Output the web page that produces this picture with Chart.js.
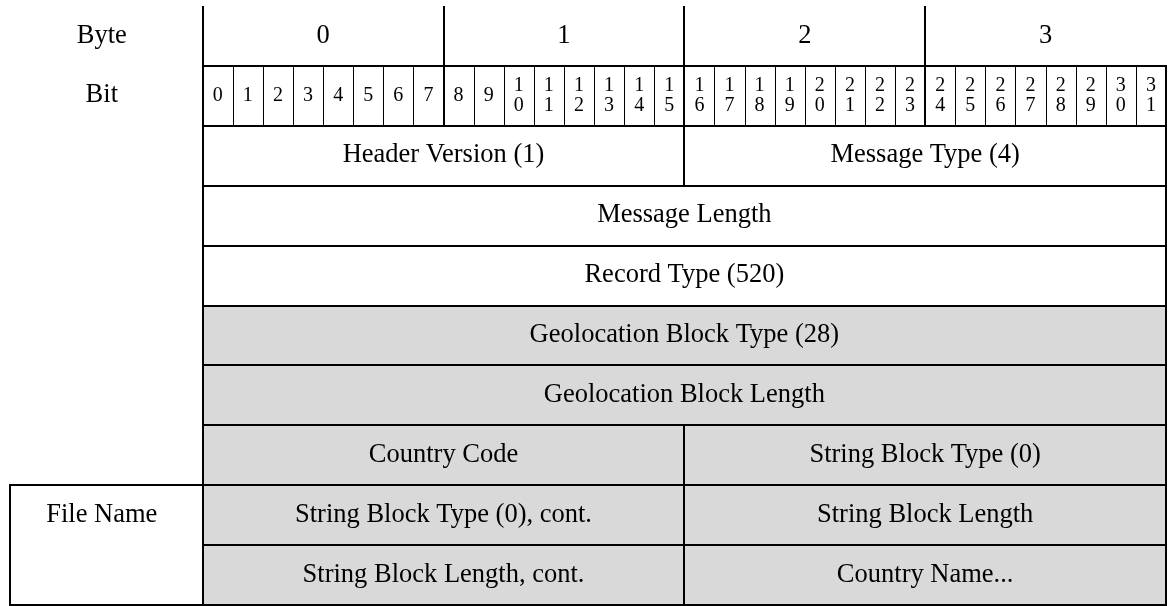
<!DOCTYPE html>
<html>
<head>
<meta charset="utf-8">
<script src="https://cdn.jsdelivr.net/npm/chart.js@4.4.1/dist/chart.umd.min.js"></script>
<style>
  html, body { margin: 0; padding: 0; background: #fff; }
  #wrap { width: 1171px; height: 606px; }
</style>
</head>
<body>
<div id="wrap"><canvas id="packetChart"></canvas></div>
<script>
// Filas del diagrama (claves) y rotulos de la columna izquierda
var rowKeys = ['byte', 'bit', 'header', 'msgLength', 'recordType', 'geoType', 'geoLength', 'country', 'fileName', 'fileNameCont'];
var rowLabels = ['Byte', 'Bit', '', '', '', '', '', '', 'File Name', ''];

// Bytes
var byteLabels = ['0', '1', '2', '3'];
var byteStart = [0, 8, 16, 24];
var byteEnd = [8, 16, 24, 32];

// Bits
var bitLabels = ['0', '1', '2', '3', '4', '5', '6', '7', '8', '9', '10', '11', '12', '13', '14', '15',
                 '16', '17', '18', '19', '20', '21', '22', '23', '24', '25', '26', '27', '28', '29', '30', '31'];

// Campos del mensaje
var fieldNames = ['Header Version (1)', 'Message Type (4)', 'Message Length', 'Record Type (520)',
                  'Geolocation Block Type (28)', 'Geolocation Block Length', 'Country Code', 'String Block Type (0)',
                  'String Block Type (0), cont.', 'String Block Length', 'String Block Length, cont.', 'Country Name...'];
var fieldRows = ['header', 'header', 'msgLength', 'recordType', 'geoType', 'geoLength',
                 'country', 'country', 'fileName', 'fileName', 'fileNameCont', 'fileNameCont'];
var fieldStart = [0, 16, 0, 0, 0, 0, 0, 16, 0, 16, 0, 16];
var fieldEnd = [16, 32, 32, 32, 32, 32, 16, 32, 16, 32, 16, 32];
var fieldShaded = [false, false, false, false, true, true, true, true, true, true, true, true];

// Bloque lateral "File Name" (ocupa dos filas)
var sideRows = ['fileName', 'fileNameCont'];

var SIDE_MIN = -6.4;      // ancho de la columna izquierda, en bits
var LABEL_X = -3.35;      // centro de los rotulos izquierdos
var FONT = '"Liberation Serif", "Times New Roman", serif';
var GRAY = '#d9d9d9';

function box(el) {
  var p = el.getProps(['x', 'y', 'base', 'height'], true);
  return {
    l: Math.round(Math.min(p.x, p.base)),
    r: Math.round(Math.max(p.x, p.base)),
    t: Math.round(p.y - p.height / 2),
    b: Math.round(p.y + p.height / 2),
    cx: (p.x + p.base) / 2,
    cy: p.y
  };
}

var diagramPlugin = {
  id: 'diagram',
  afterDatasetsDraw: function (chart) {
    var ctx = chart.ctx;
    var bytes = chart.getDatasetMeta(0).data;
    var bits = chart.getDatasetMeta(1).data;
    var fields = chart.getDatasetMeta(2).data;
    var side = chart.getDatasetMeta(3).data;
    ctx.save();
    ctx.strokeStyle = '#000';

    // lineas finas entre bits
    ctx.lineWidth = 1;
    bits.forEach(function (el) {
      var b = box(el);
      ctx.beginPath();
      ctx.moveTo(b.l + 0.5, b.t);
      ctx.lineTo(b.l + 0.5, b.b);
      ctx.stroke();
    });

    // lineas gruesas
    ctx.lineWidth = 2;
    var bitFirst = box(bits[0]);
    var bitLast = box(bits[bits.length - 1]);
    bytes.forEach(function (el) {
      var b = box(el);
      ctx.beginPath();
      ctx.moveTo(b.l, b.t);
      ctx.lineTo(b.l, bitFirst.b);
      ctx.stroke();
    });
    ctx.strokeRect(bitFirst.l, bitFirst.t, bitLast.r - bitFirst.l, bitFirst.b - bitFirst.t);
    fields.forEach(function (el) {
      var b = box(el);
      ctx.strokeRect(b.l, b.t, b.r - b.l, b.b - b.t);
    });
    var s0 = box(side[0]);
    var s1 = box(side[side.length - 1]);
    ctx.strokeRect(s0.l, s0.t, s0.r - s0.l, s1.b - s0.t);

    // textos
    ctx.fillStyle = '#000';
    ctx.textAlign = 'center';
    ctx.textBaseline = 'alphabetic';
    var big = 26.5, small = 20;
    ctx.font = big + 'px ' + FONT;
    bytes.forEach(function (el, i) {
      var b = box(el);
      ctx.fillText(byteLabels[i], b.cx, b.cy + big * 0.25);
    });
    fields.forEach(function (el, i) {
      var b = box(el);
      ctx.fillText(fieldNames[i], b.cx, b.cy + big * 0.25);
    });
    var xs = chart.scales.x, ys = chart.scales.y;
    rowLabels.forEach(function (lab, i) {
      if (!lab) return;
      ctx.fillText(lab, xs.getPixelForValue(LABEL_X), ys.getPixelForValue(i) + big * 0.25);
    });
    ctx.font = small + 'px ' + FONT;
    bits.forEach(function (el, i) {
      var b = box(el);
      var chars = bitLabels[i].split('');
      var step = 20;
      var y0 = b.cy + 5 - (chars.length - 1) * step / 2;
      chars.forEach(function (c, k) {
        ctx.fillText(c, b.cx, y0 + k * step);
      });
    });
    ctx.restore();
  }
};

var data = {
  labels: rowKeys,
  datasets: [{
    label: 'Byte',
    data: byteLabels.map(function (l, i) { return { y: 'byte', x: [byteStart[i], byteEnd[i]] }; }),
    backgroundColor: '#fff'
  }, {
    label: 'Bit',
    data: bitLabels.map(function (l, i) { return { y: 'bit', x: [i, i + 1] }; }),
    backgroundColor: '#fff'
  }, {
    label: 'Campos',
    data: fieldNames.map(function (n, i) { return { y: fieldRows[i], x: [fieldStart[i], fieldEnd[i]] }; }),
    backgroundColor: fieldShaded.map(function (s) { return s ? GRAY : '#fff'; })
  }, {
    label: 'Lateral',
    data: sideRows.map(function (r) { return { y: r, x: [SIDE_MIN, 0] }; }),
    backgroundColor: '#fff'
  }]
};

var options = {
  indexAxis: 'y',
  responsive: true,
  maintainAspectRatio: false,
  animation: false,
  events: [],
  grouped: false,
  barPercentage: 1,
  categoryPercentage: 1,
  borderWidth: 0,
  layout: { padding: { left: 10, right: 5, top: 6, bottom: 1 } },
  scales: {
    x: { type: 'linear', min: SIDE_MIN, max: 32, display: false },
    y: { type: 'category', display: false, offset: true }
  },
  plugins: { legend: { display: false }, tooltip: { enabled: false } }
};

var ctx = document.getElementById('packetChart').getContext('2d');
var packetChart = new Chart(ctx, {
  type: 'bar',
  data: data,
  options: options,
  plugins: [diagramPlugin]
});
</script>
</body>
</html>
